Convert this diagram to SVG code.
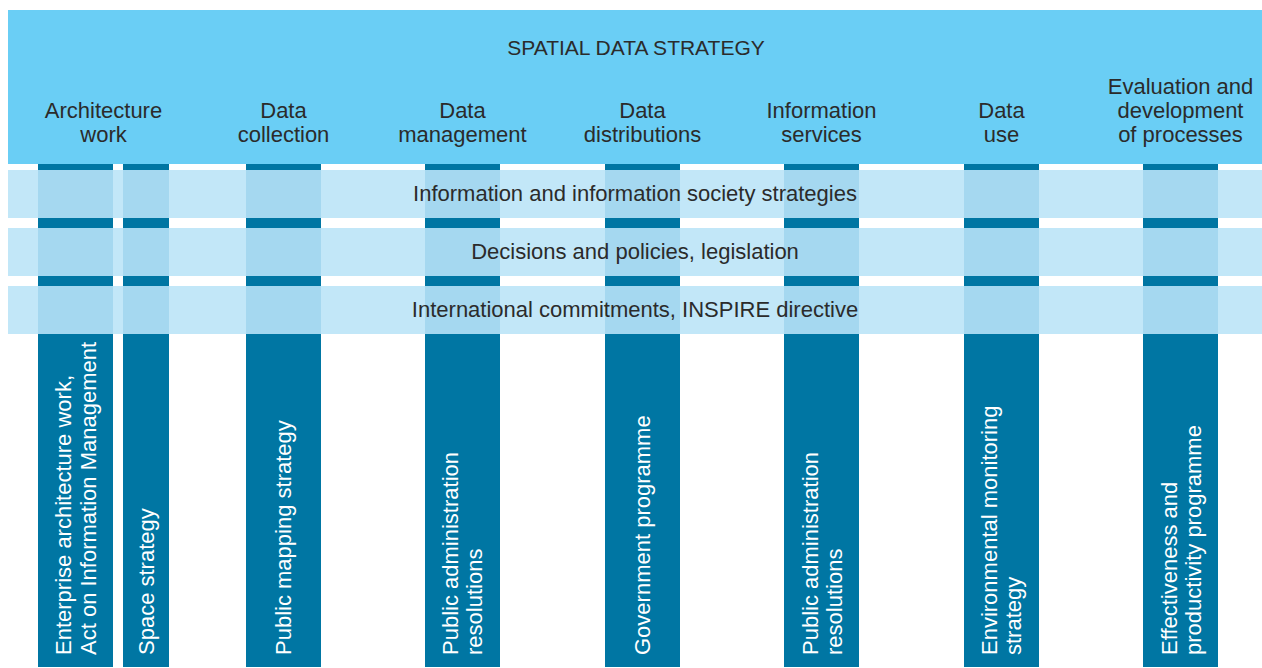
<svg xmlns="http://www.w3.org/2000/svg" width="1262" height="668" viewBox="0 0 1262 668">
<style>
  .hdr { fill: #6ACEF5; }
  .col { fill: #0076A3; }
  .band { fill: #C2E7F8; }
  .ov { fill: #A5D8F0; }
  text { font-family: "Liberation Sans", Arial, sans-serif; }
  .t { fill: #2B2B2B; font-size: 22px; text-anchor: middle; }
  .title { fill: #2B2B2B; font-size: 21px; text-anchor: middle; }
  .v { fill: #FFFFFF; font-size: 22px; }
</style>
<rect x="0" y="0" width="1262" height="668" fill="#FFFFFF"/>
<g id="header">
  <rect class="hdr" x="8" y="10" width="1254" height="154"/>
  <text class="title" x="636" y="55">SPATIAL DATA STRATEGY</text>
  <text class="t" x="103.5" y="118">Architecture<tspan x="103.5" dy="24">work</tspan></text>
  <text class="t" x="283.5" y="118">Data<tspan x="283.5" dy="24">collection</tspan></text>
  <text class="t" x="462.5" y="118">Data<tspan x="462.5" dy="24">management</tspan></text>
  <text class="t" x="642.5" y="118">Data<tspan x="642.5" dy="24">distributions</tspan></text>
  <text class="t" x="821.5" y="118">Information<tspan x="821.5" dy="24">services</tspan></text>
  <text class="t" x="1001.5" y="118">Data<tspan x="1001.5" dy="24">use</tspan></text>
  <text class="t" x="1180.5" y="94">Evaluation and<tspan x="1180.5" dy="24">development</tspan><tspan x="1180.5" dy="24">of processes</tspan></text>
</g>
<g id="columns">
  <g id="col-enterprise"><rect class="col" x="38" y="164" width="75" height="503"/></g>
  <g id="col-space"><rect class="col" x="123" y="164" width="46" height="503"/></g>
  <g id="col-mapping"><rect class="col" x="246" y="164" width="75" height="503"/></g>
  <g id="col-padmin1"><rect class="col" x="425" y="164" width="75" height="503"/></g>
  <g id="col-government"><rect class="col" x="605" y="164" width="75" height="503"/></g>
  <g id="col-padmin2"><rect class="col" x="784" y="164" width="75" height="503"/></g>
  <g id="col-environment"><rect class="col" x="964" y="164" width="75" height="503"/></g>
  <g id="col-effectiveness"><rect class="col" x="1143" y="164" width="75" height="503"/></g>
</g>
<g id="band-information">
  <rect class="band" x="8" y="170" width="1254" height="48"/>
  <rect class="ov" x="38" y="170" width="75" height="48"/>
  <rect class="ov" x="123" y="170" width="46" height="48"/>
  <rect class="ov" x="246" y="170" width="75" height="48"/>
  <rect class="ov" x="425" y="170" width="75" height="48"/>
  <rect class="ov" x="605" y="170" width="75" height="48"/>
  <rect class="ov" x="784" y="170" width="75" height="48"/>
  <rect class="ov" x="964" y="170" width="75" height="48"/>
  <rect class="ov" x="1143" y="170" width="75" height="48"/>
  <text class="t" x="635" y="201">Information and information society strategies</text>
</g>
<g id="band-decisions">
  <rect class="band" x="8" y="228" width="1254" height="48"/>
  <rect class="ov" x="38" y="228" width="75" height="48"/>
  <rect class="ov" x="123" y="228" width="46" height="48"/>
  <rect class="ov" x="246" y="228" width="75" height="48"/>
  <rect class="ov" x="425" y="228" width="75" height="48"/>
  <rect class="ov" x="605" y="228" width="75" height="48"/>
  <rect class="ov" x="784" y="228" width="75" height="48"/>
  <rect class="ov" x="964" y="228" width="75" height="48"/>
  <rect class="ov" x="1143" y="228" width="75" height="48"/>
  <text class="t" x="635" y="259">Decisions and policies, legislation</text>
</g>
<g id="band-international">
  <rect class="band" x="8" y="286" width="1254" height="48"/>
  <rect class="ov" x="38" y="286" width="75" height="48"/>
  <rect class="ov" x="123" y="286" width="46" height="48"/>
  <rect class="ov" x="246" y="286" width="75" height="48"/>
  <rect class="ov" x="425" y="286" width="75" height="48"/>
  <rect class="ov" x="605" y="286" width="75" height="48"/>
  <rect class="ov" x="784" y="286" width="75" height="48"/>
  <rect class="ov" x="964" y="286" width="75" height="48"/>
  <rect class="ov" x="1143" y="286" width="75" height="48"/>
  <text class="t" x="635" y="317">International commitments, INSPIRE directive</text>
</g>
<g id="column-labels">
  <text class="v" transform="translate(71,655) rotate(-90)">Enterprise architecture work,<tspan x="0" dy="24.5">Act on Information Management</tspan></text>
  <text class="v" transform="translate(154,655) rotate(-90)">Space strategy</text>
  <text class="v" transform="translate(291,655) rotate(-90)">Public mapping strategy</text>
  <text class="v" transform="translate(458,655) rotate(-90)">Public administration<tspan x="0" dy="24">resolutions</tspan></text>
  <text class="v" transform="translate(650,655) rotate(-90)">Government programme</text>
  <text class="v" transform="translate(817.5,655) rotate(-90)">Public administration<tspan x="0" dy="24">resolutions</tspan></text>
  <text class="v" transform="translate(997,655) rotate(-90)">Environmental monitoring<tspan x="0" dy="24">strategy</tspan></text>
  <text class="v" transform="translate(1176.5,655) rotate(-90)">Effectiveness and<tspan x="0" dy="24">productivity programme</tspan></text>
</g>
</svg>
